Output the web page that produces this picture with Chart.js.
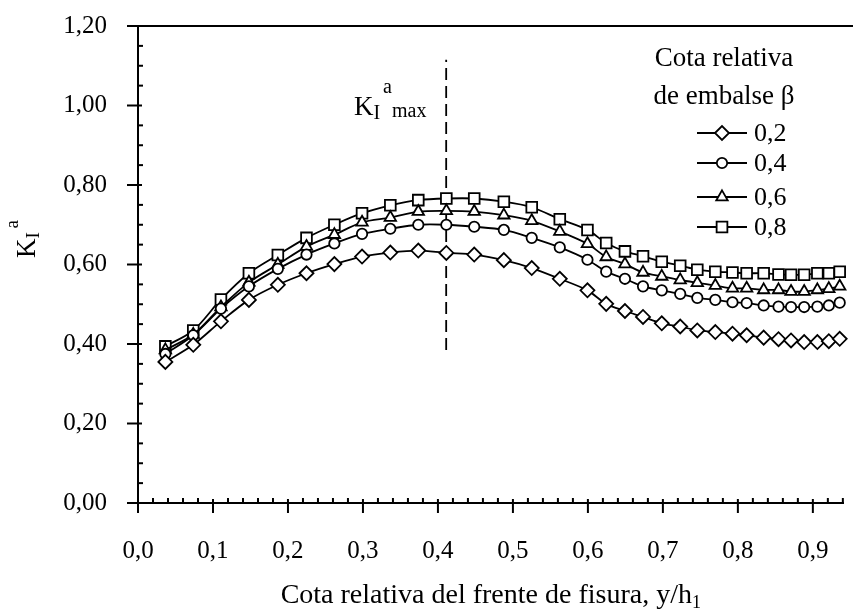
<!DOCTYPE html>
<html>
<head>
<meta charset="utf-8">
<script src="https://cdn.jsdelivr.net/npm/chart.js@4.4.1/dist/chart.umd.min.js"></script>
<style>
html,body{margin:0;padding:0;background:#fff;}
#wrap{width:853px;height:611px;position:relative;}
</style>
</head>
<body>
<div id="wrap"><canvas id="c" width="853" height="611"></canvas></div>
<script>
// ---- data ----
const xValues = [0.0365,0.0737,0.1106,0.1479,0.1865,0.2247,0.2619,0.2988,0.3365,0.3738,0.4112,0.4484,0.4879,0.5251,0.5625,0.5994,0.6244,0.6494,0.6735,0.6985,0.7231,0.7459,0.7699,0.7928,0.8117,0.8344,0.8542,0.8709,0.8884,0.9060,0.9213,0.9358];
const beta02 = [0.355,0.398,0.457,0.511,0.549,0.578,0.601,0.620,0.630,0.635,0.629,0.625,0.611,0.591,0.564,0.535,0.501,0.483,0.468,0.452,0.444,0.434,0.430,0.426,0.422,0.416,0.412,0.409,0.405,0.405,0.407,0.413];
const beta04 = [0.375,0.422,0.489,0.545,0.589,0.625,0.653,0.677,0.690,0.700,0.700,0.695,0.687,0.667,0.643,0.612,0.582,0.564,0.545,0.535,0.526,0.516,0.511,0.505,0.503,0.497,0.494,0.493,0.493,0.494,0.497,0.504];
const beta06 = [0.385,0.424,0.493,0.555,0.600,0.645,0.675,0.706,0.718,0.733,0.735,0.733,0.724,0.710,0.683,0.652,0.619,0.601,0.580,0.570,0.561,0.554,0.547,0.540,0.540,0.536,0.536,0.532,0.532,0.536,0.539,0.545];
const beta08 = [0.394,0.434,0.512,0.578,0.624,0.667,0.700,0.729,0.749,0.762,0.766,0.766,0.758,0.744,0.714,0.687,0.654,0.633,0.621,0.607,0.597,0.587,0.582,0.580,0.578,0.578,0.575,0.574,0.574,0.578,0.578,0.582];
const seriesLabels = ['0,2','0,4','0,6','0,8'];
const maxLineX = [0.411,0.411];
const maxLineY = [0.385,1.115];
const xTickValues = [0,0.1,0.2,0.3,0.4,0.5,0.6,0.7,0.8,0.9];
const yTickValues = [0,0.2,0.4,0.6,0.8,1.0,1.2];
const legendTitle = ['Cota relativa','de embalse \u03B2'];
const xTitle = 'Cota relativa del frente de fisura, y/h';
const xTitleSub = '1';

const FONT = '"Liberation Serif","Times New Roman",serif';
const toPts = ys => ys.map((y,i)=>({x:xValues[i],y:y}));
const styles = [
  {pointStyle:'rectRot', radius:7},
  {pointStyle:'circle', radius:5.2},
  {pointStyle:'triangle', radius:6.6},
  {pointStyle:'rect', radius:7.6}
];
const seriesData = [beta02,beta04,beta06,beta08];
const LW = 1.8;

const datasets = seriesData.map((d,i)=>({
  label: seriesLabels[i],
  data: toPts(d),
  borderColor:'#000',
  borderWidth:LW,
  backgroundColor:'#fff',
  pointBackgroundColor:'#fff',
  pointBorderColor:'#000',
  pointBorderWidth:LW,
  pointStyle: styles[i].pointStyle,
  pointRadius: styles[i].radius,
  tension:0.3,
  clip:false
}));
datasets.push({
  label:'max',
  data: maxLineX.map((x,i)=>({x:x,y:maxLineY[i]})),
  borderColor:'#000',
  borderWidth:LW,
  borderDash:[12,6],
  pointRadius:0,
  tension:0,
  clip:false
});

function drawMarker(ctx, style, r, x, y){
  ctx.save();
  ctx.fillStyle='#fff'; ctx.strokeStyle='#000'; ctx.lineWidth=LW;
  if (Chart.helpers && Chart.helpers.drawPoint){
    Chart.helpers.drawPoint(ctx,{pointStyle:style,radius:r,rotation:0,borderWidth:LW},x,y);
  }
  ctx.restore();
}

const extras = {
  id:'extras',
  afterDraw(chart){
    const ctx = chart.ctx;
    const xs = chart.scales.x, ys = chart.scales.y;
    const ca = chart.chartArea;
    const x0 = ca.left, y0 = ca.bottom;
    ctx.save();
    ctx.strokeStyle='#000';
    ctx.lineWidth=2;
    // top line
    ctx.beginPath(); ctx.moveTo(x0-11, ca.top); ctx.lineTo(chart.width, ca.top); ctx.stroke();
    // y ticks
    for (let k=0;k<=24;k++){
      const v = k*0.05; const py = ys.getPixelForValue(v);
      ctx.beginPath();
      if (k%4===0){ ctx.moveTo(x0-11,py); ctx.lineTo(x0+4,py); }
      else { ctx.moveTo(x0,py); ctx.lineTo(x0+5,py); }
      ctx.stroke();
    }
    // x ticks
    for (let k=0;k<=47;k++){
      const v = k*0.02; if (v>xs.max+1e-9) break;
      const px = xs.getPixelForValue(v);
      ctx.beginPath();
      if (k%5===0){ ctx.moveTo(px,y0-4); ctx.lineTo(px,y0+10); }
      else { ctx.moveTo(px,y0-5); ctx.lineTo(px,y0); }
      ctx.stroke();
    }
    ctx.fillStyle='#000';
    ctx.textBaseline='alphabetic';
    // x title, centred on plot area
    ctx.font = '28px '+FONT;
    const wMain = ctx.measureText(xTitle).width;
    ctx.font = '18px '+FONT;
    const wSub = ctx.measureText(xTitleSub).width;
    const cx = (ca.left+ca.right)/2;
    let sx = cx - (wMain+wSub)/2;
    ctx.font = '28px '+FONT; ctx.textAlign='left';
    ctx.fillText(xTitle, sx, 603);
    ctx.font = '18px '+FONT;
    ctx.fillText(xTitleSub, sx+wMain, 608);
    // y title (rotated)
    ctx.save();
    ctx.translate(35, 258);
    ctx.rotate(-Math.PI/2);
    ctx.font = '27px '+FONT;
    ctx.fillText('K',0,0);
    const wK = ctx.measureText('K').width;
    ctx.font = '19px '+FONT;
    ctx.fillText('I', wK, 4);
    ctx.fillText('a', wK+10, -17);
    ctx.restore();
    // annotation
    ctx.font = '27px '+FONT;
    ctx.fillText('K', 354, 115);
    const wK2 = ctx.measureText('K').width;
    ctx.font = '20px '+FONT;
    ctx.fillText('I', 354+wK2, 119);
    ctx.fillText('a', 383, 93);
    ctx.fillText('max', 392, 117);
    // legend
    ctx.font = '27px '+FONT; ctx.textAlign='center';
    ctx.fillText(legendTitle[0], 724, 66);
    ctx.fillText(legendTitle[1], 724, 104);
    const ly = [133,163,197,227];
    ctx.textAlign='left'; ctx.textBaseline='middle';
    ctx.font = '26px '+FONT;
    for (let i=0;i<4;i++){
      ctx.lineWidth=LW;
      ctx.beginPath(); ctx.moveTo(697,ly[i]); ctx.lineTo(747,ly[i]); ctx.stroke();
      drawMarker(ctx, styles[i].pointStyle, styles[i].radius, 722, ly[i]);
      ctx.fillStyle='#000';
      ctx.fillText(seriesLabels[i], 754, ly[i]+1);
    }
    ctx.restore();
  }
};

new Chart(document.getElementById('c'), {
  type:'line',
  data:{datasets:datasets},
  options:{
    responsive:false,
    animation:false,
    devicePixelRatio:1,
    layout:{padding:{top:26,right:0,left:0,bottom:0}},
    plugins:{legend:{display:false},tooltip:{enabled:false}},
    scales:{
      x:{
        type:'linear', min:0, max:0.941,
        afterBuildTicks(s){ s.ticks = xTickValues.map(v=>({value:v})); },
        afterFit(s){ s.height = 108; s.paddingLeft = 0; s.paddingRight = 0; },
        grid:{display:false},
        border:{display:true,color:'#000',width:2},
        ticks:{autoSkip:false,maxRotation:0,padding:25,color:'#000',
          font:{family:FONT,size:25},
          callback:v=>v.toFixed(1).replace('.',',')}
      },
      y:{
        type:'linear', min:0, max:1.2,
        afterBuildTicks(s){ s.ticks = yTickValues.map(v=>({value:v})); },
        afterFit(s){ s.width = 138; s.paddingTop = 0; s.paddingBottom = 0; },
        grid:{display:false},
        border:{display:true,color:'#000',width:2},
        ticks:{padding:23,color:'#000',font:{family:FONT,size:25},
          callback:v=>v.toFixed(2).replace('.',',')}
      }
    }
  },
  plugins:[extras]
});
</script>
</body>
</html>
